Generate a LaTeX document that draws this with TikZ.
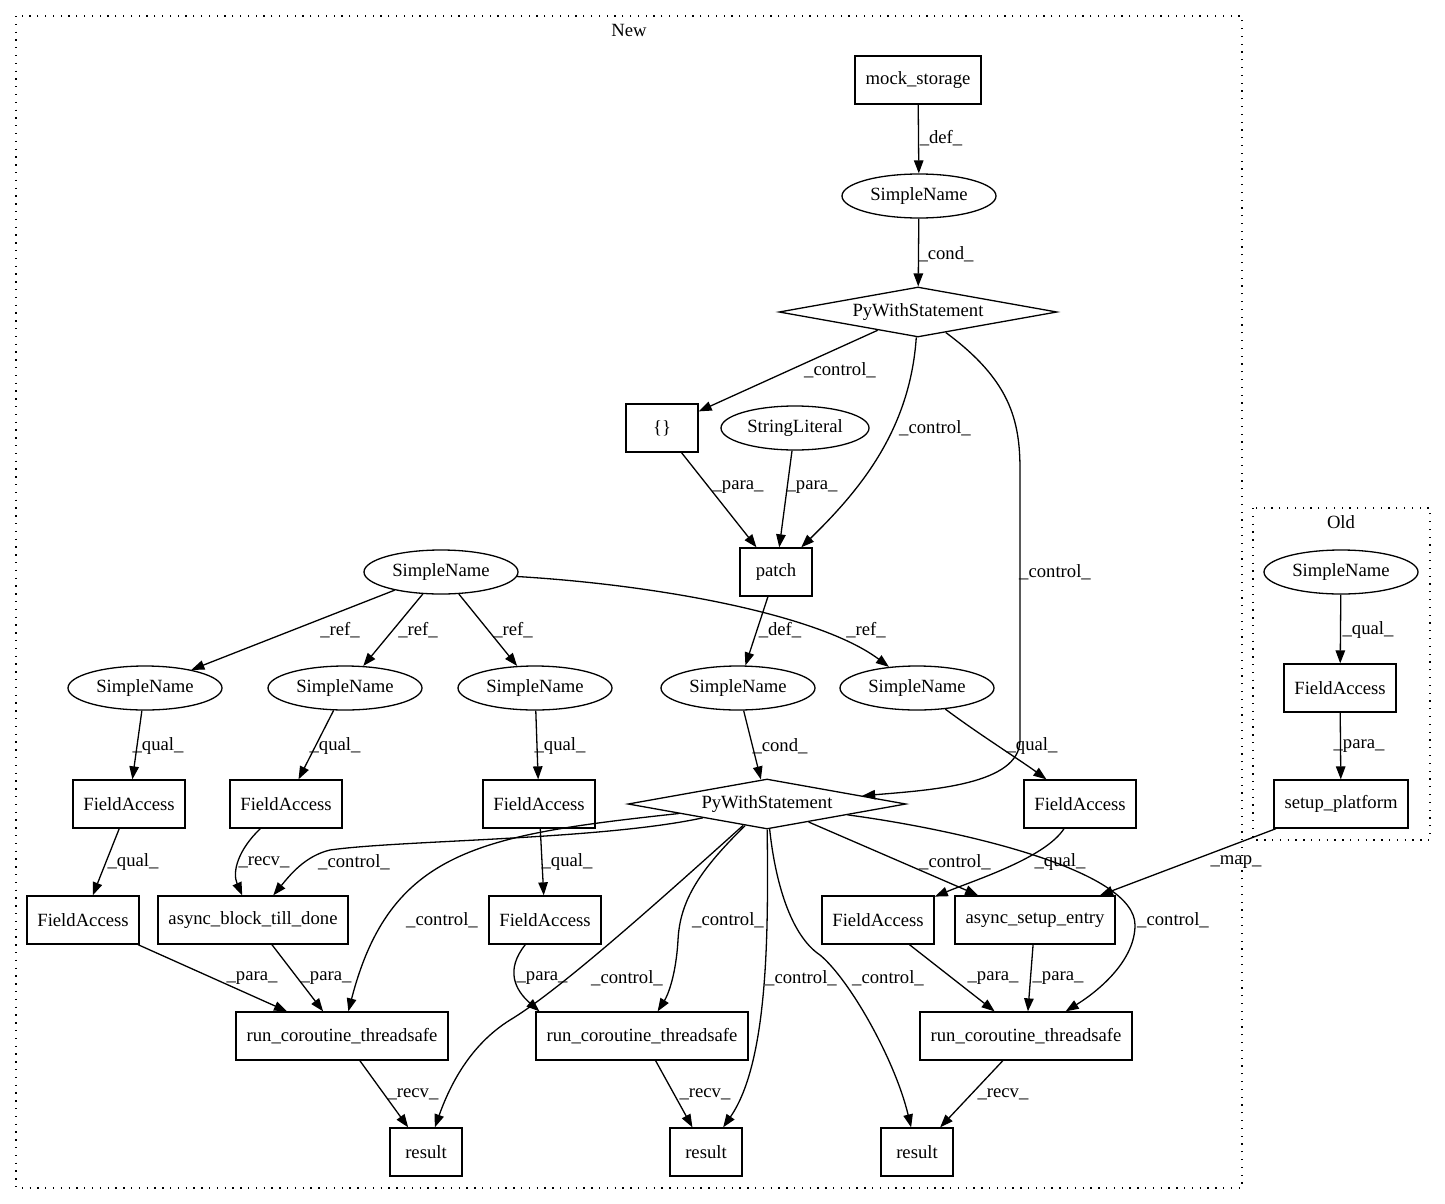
\documentclass[tikz,border=0pt]{standalone}
\usepackage{fontspec}
\setmainfont{Liberation Serif}
\usetikzlibrary{shapes.geometric,arrows.meta}

\tikzset{every picture/.style={line width=1.3pt}}

\begin{document}
\begin{tikzpicture}[
            x=1pt,
            y=1pt,
            yscale=-1,
            xscale=1,
            every node/.style={text=black, font=\fontsize{18.67}{22}\selectfont},
            box/.style={draw, rectangle, minimum width=72, minimum height=48, inner xsep=10.5pt, inner ysep=0pt},
            ell/.style={draw, ellipse, minimum width=154, minimum height=44, inner sep=0pt},
            dia/.style={draw, diamond, aspect=5.6, minimum width=278, minimum height=50, inner sep=0pt},
            lbl/.style={inner sep=0pt},
            link/.style={-{Triangle[length=13pt,width=9.5pt]}},
            cluster/.style={dash pattern=on 1.3pt off 6.5pt},
            line width=1.3pt
        ]
            \useasboundingbox (0,0) rectangle (1445,1204);

            % clusters
            \draw[cluster] (16,16) rectangle (1242,1188);
            \node[lbl] (newtitle) at (629,30) {New};
            \draw[cluster] (1253,508) rectangle (1430,840);
            \node[lbl] (oldtitle) at (1341,522) {Old};

            % nodes of New
            \node[box] (mock) at (918,80) {mock\_storage};
            \node[ell] (sn1) at (919,196) {SimpleName};
            \node[dia] (with1) at (918,312) {PyWithStatement};
            \node[box] (braces) at (662,428) {\{\}};
            \node[ell, minimum width=148] (strlit) at (795,428) {StringLiteral};
            \node[box] (patch) at (776,572) {patch};
            \node[ell] (snv) at (441,572) {SimpleName};
            \node[ell] (sna) at (145,688) {SimpleName};
            \node[ell] (snb) at (345,688) {SimpleName};
            \node[ell] (snc) at (535,688) {SimpleName};
            \node[ell] (snd) at (738,688) {SimpleName};
            \node[ell] (sne) at (917,688) {SimpleName};
            \node[box] (fa1) at (129,804) {FieldAccess};
            \node[box] (fa2) at (286,804) {FieldAccess};
            \node[box] (fa3) at (539,804) {FieldAccess};
            \node[dia] (with2) at (767,804) {PyWithStatement};
            \node[box] (fa4) at (1080,804) {FieldAccess};
            \node[box] (fa5) at (83,920) {FieldAccess};
            \node[box] (block) at (253,920) {async\_block\_till\_done};
            \node[box] (fa6) at (545,920) {FieldAccess};
            \node[box] (fa7) at (878,920) {FieldAccess};
            \node[box] (entry) at (1035,920) {async\_setup\_entry};
            \node[box] (rct1) at (342,1036) {run\_coroutine\_threadsafe};
            \node[box] (rct2) at (642,1036) {run\_coroutine\_threadsafe};
            \node[box] (rct3) at (1026,1036) {run\_coroutine\_threadsafe};
            \node[box] (res1) at (426,1152) {result};
            \node[box] (res2) at (706,1152) {result};
            \node[box] (res3) at (917,1152) {result};

            % nodes of Old
            \node[ell] (osn) at (1341,572) {SimpleName};
            \node[box] (ofa) at (1340,688) {FieldAccess};
            \node[box] (setup) at (1341,804) {setup\_platform};

            % edges
            \draw[link] (mock) -- (sn1);
            \draw[link] (sn1) -- (with1);
            \draw[link] (with1) -- (braces);
            \draw[link] (with1) .. controls (910,430) and (860,490) .. (patch);
            \draw[link] (with1) .. controls (1010,380) and (1020,420) .. (1020,470) -- (1020,740) .. controls (1020,785) and (930,790) .. (with2);
            \draw[link] (braces) -- (patch);
            \draw[link] (strlit) -- (patch);
            \draw[link] (patch) -- (snd);
            \draw[link] (snv) -- (sna);
            \draw[link] (snv) -- (snb);
            \draw[link] (snv) -- (snc);
            \draw[link] (snv) .. controls (660,585) and (820,615) .. (sne);
            \draw[link] (sna) -- (fa1);
            \draw[link] (snb) -- (fa2);
            \draw[link] (snc) -- (fa3);
            \draw[link] (snd) -- (with2);
            \draw[link] (sne) .. controls (980,735) and (1020,760) .. (fa4);
            \draw[link] (fa1) -- (fa5);
            \draw[link] (fa2) .. controls (238,850) and (232,872) .. (block);
            \draw[link] (fa3) -- (fa6);
            \draw[link] (fa4) .. controls (1045,858) and (975,880) .. (fa7);
            \draw[link] (osn) -- (ofa);
            \draw[link] (ofa) -- (setup);
            \draw[link] (setup) -- (entry);
            \draw[link] (with2) .. controls (600,840) and (400,840) .. (330,850) .. controls (305,856) and (290,875) .. (block);
            \draw[link] (with2) .. controls (480,835) and (390,850) .. (rct1);
            \draw[link] (with2) .. controls (660,900) and (560,990) .. (510,1020) .. controls (470,1045) and (450,1085) .. (res1);
            \draw[link] (with2) .. controls (700,870) and (680,900) .. (678,940) .. controls (676,975) and (668,995) .. (rct2);
            \draw[link] (with2) .. controls (768,920) and (770,1060) .. (res2);
            \draw[link] (with2) .. controls (775,880) and (790,935) .. (820,955) .. controls (850,980) and (895,1060) .. (res3);
            \draw[link] (with2) -- (entry);
            \draw[link] (with2) .. controls (960,830) and (1135,870) .. (1135,925) .. controls (1135,960) and (1100,990) .. (rct3);
            \draw[link] (fa5) -- (rct1);
            \draw[link] (block) -- (rct1);
            \draw[link] (fa6) .. controls (505,970) and (515,990) .. ([xshift=4pt]rct2.north west);
            \draw[link] (fa7) -- (rct3);
            \draw[link] (entry) -- (rct3);
            \draw[link] (rct1) -- (res1);
            \draw[link] (rct2) -- (res2);
            \draw[link] (rct3) -- (res3);

            % edge labels
            \node[lbl] (l1) at (941,138) {\_def\_};
            \node[lbl] (l2) at (946,254) {\_cond\_};
            \node[lbl] (l3) at (840,370) {\_control\_};
            \node[lbl] (l4) at (935,428) {\_control\_};
            \node[lbl] (l5) at (1055,572) {\_control\_};
            \node[lbl] (l6) at (738,487) {\_para\_};
            \node[lbl] (l7) at (812,487) {\_para\_};
            \node[lbl] (l8) at (780,630) {\_def\_};
            \node[lbl] (l9) at (340,630) {\_ref\_};
            \node[lbl] (l10) at (418,630) {\_ref\_};
            \node[lbl] (l11) at (513,630) {\_ref\_};
            \node[lbl] (l12) at (866,630) {\_ref\_};
            \node[lbl] (l13) at (158,746) {\_qual\_};
            \node[lbl] (l14) at (335,746) {\_qual\_};
            \node[lbl] (l15) at (560,746) {\_qual\_};
            \node[lbl] (l16) at (780,746) {\_cond\_};
            \node[lbl] (l17) at (1032,746) {\_qual\_};
            \node[lbl] (l18) at (1368,630) {\_qual\_};
            \node[lbl] (l19) at (1359,746) {\_para\_};
            \node[lbl] (l20) at (133,862) {\_qual\_};
            \node[lbl] (l21) at (264,862) {\_recv\_};
            \node[lbl] (l22) at (354,862) {\_control\_};
            \node[lbl] (l23) at (567,862) {\_qual\_};
            \node[lbl] (l24) at (955,862) {\_control\_};
            \node[lbl] (l25) at (1060,862) {\_qual\_};
            \node[lbl] (l26) at (1236,862) {\_map\_};
            \node[lbl] (l27) at (442,920) {\_control\_};
            \node[lbl] (l28) at (728,920) {\_control\_};
            \node[lbl] (l29) at (1173,920) {\_control\_};
            \node[lbl] (l30) at (252,978) {\_para\_};
            \node[lbl] (l31) at (326,978) {\_para\_};
            \node[lbl] (l32) at (542,978) {\_para\_};
            \node[lbl] (l33) at (627,978) {\_control\_};
            \node[lbl] (l34) at (801,978) {\_control\_};
            \node[lbl] (l35) at (888,978) {\_control\_};
            \node[lbl] (l36) at (993,978) {\_para\_};
            \node[lbl] (l37) at (1058,978) {\_para\_};
            \node[lbl] (l38) at (413,1094) {\_recv\_};
            \node[lbl] (l39) at (705,1094) {\_recv\_};
            \node[lbl] (l40) at (1003,1094) {\_recv\_};
        \end{tikzpicture}
\end{document}
